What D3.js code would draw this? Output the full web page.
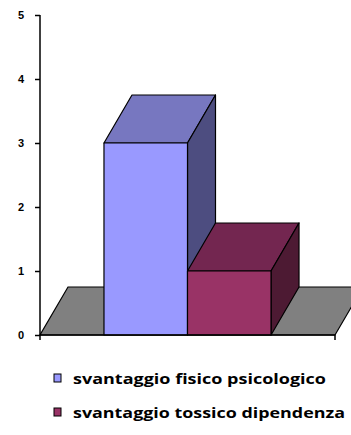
<!DOCTYPE html>
<html><head><meta charset="utf-8">
<script src="https://cdn.jsdelivr.net/npm/d3@7"></script>
<style>body{margin:0;background:#fff}svg{display:block}</style>
</head><body>
<svg id="c" width="351" height="435"></svg>
<script>
const seriesNames = ["svantaggio fisico psicologico", "svantaggio tossico dipendenza"];
const seriesValues = [3, 1];
const yTicks = [0, 1, 2, 3, 4, 5];
const frontColors = ["#9999FF", "#993366"];
const topColors = ["#7777C0", "#732650"];
const sideColors = ["#4D4D80", "#4D1A33"];

const svg = d3.select("#c");
const x0 = 40, x1 = 335;
const dx = 28, dy = -48;
const y = d3.scaleLinear().domain([0, 5]).range([335, 15]);
const x = d3.scaleBand().domain(seriesNames).range([x0, x1]).paddingInner(0).paddingOuter(0.766);

const poly = pts => "M" + pts.map(p => p.join(",")).join("L") + "Z";

// floor
svg.append("path")
  .attr("d", poly([[x0, y(0)], [x1, y(0)], [x1 + dx, y(0) + dy], [x0 + dx, y(0) + dy]]))
  .attr("fill", "#808080").attr("stroke", "#000").attr("stroke-width", 1.2);

// bars
seriesNames.forEach((s, i) => {
  const l = x(s), r = x(s) + x.bandwidth(), t = y(seriesValues[i]), b = y(0);
  const g = svg.append("g").attr("stroke", "#000").attr("stroke-width", 1.2).attr("stroke-linejoin", "round");
  g.append("path").attr("d", poly([[l, t], [r, t], [r + dx, t + dy], [l + dx, t + dy]])).attr("fill", topColors[i]);
  g.append("path").attr("d", poly([[r, t], [r + dx, t + dy], [r + dx, b + dy], [r, b]])).attr("fill", sideColors[i]);
  g.append("path").attr("d", poly([[l, t], [r, t], [r, b], [l, b]])).attr("fill", frontColors[i]);
});

// y axis
const yAxis = svg.append("g").attr("transform", `translate(${x0},0)`)
  .call(d3.axisLeft(y).tickValues(yTicks).tickSize(5).tickPadding(11).tickFormat(d3.format("d")));
yAxis.select(".domain").attr("d", `M0,${y(5)}V${y(0) + 5}`).attr("stroke-width", 1.5);
yAxis.selectAll(".tick line").attr("stroke-width", 1.5);
yAxis.selectAll(".tick text").attr("font-family", "Liberation Sans, Arial, sans-serif")
  .attr("font-weight", "bold").attr("font-size", 11).attr("fill", "#000");

// x axis baseline
svg.append("path").attr("d", `M${x0},${y(0)}H${x1}V${y(0) + 5}`)
  .attr("fill", "none").attr("stroke", "#000").attr("stroke-width", 1.5);

// legend
const legendWidths = [253, 272];
const leg = svg.append("g");
seriesNames.forEach((s, i) => {
  const yy = 378 + i * 34;
  leg.append("rect").attr("x", 54).attr("y", yy - 4).attr("width", 7).attr("height", 8)
    .attr("fill", frontColors[i]).attr("stroke", "#000").attr("stroke-width", 1);
  leg.append("text").attr("x", 73).attr("y", yy + 6).text(s)
    .attr("font-family", "'Open Sans', Lato, sans-serif").attr("font-weight", "bold")
    .attr("font-size", 15).attr("fill", "#000")
    .attr("textLength", legendWidths[i]).attr("lengthAdjust", "spacingAndGlyphs");
});
</script>
</body></html>
